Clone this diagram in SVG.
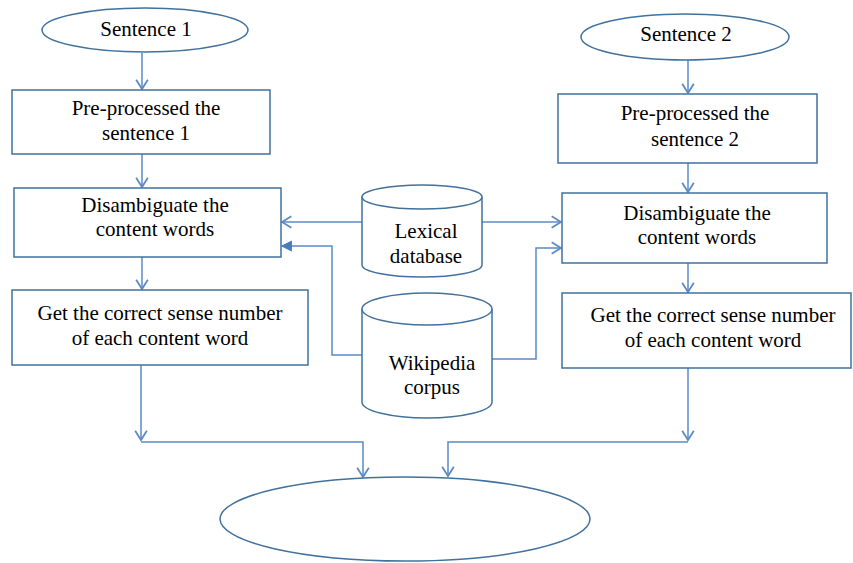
<svg xmlns="http://www.w3.org/2000/svg" width="853" height="563" viewBox="0 0 853 563">
<defs>
<style>
.shape{fill:#ffffff;stroke:#41719c;stroke-width:1.5}
.conn{fill:none;stroke:#5b8ac6;stroke-width:1.5}
text{font-family:"Liberation Serif","Times New Roman",serif;font-size:21px;fill:#000;text-anchor:middle}
</style>
<marker id="open" markerUnits="userSpaceOnUse" markerWidth="14" markerHeight="14" viewBox="-10 -6 12 12" refX="0" refY="0" orient="auto">
<path d="M-8,-5 L0,0 L-8,5" fill="none" stroke="#5b8ac6" stroke-width="1.5"/>
</marker>
<marker id="solid" markerUnits="userSpaceOnUse" markerWidth="14" markerHeight="14" viewBox="-10 -6 12 12" refX="0" refY="0" orient="auto">
<path d="M-8,-4 L0,0 L-8,4 Z" fill="#4a7bbd" stroke="#4a7bbd" stroke-width="1"/>
</marker>
</defs>
<rect width="853" height="563" fill="#ffffff"/>
<g id="connectors">
<path class="conn" d="M142,53 L142,89" marker-end="url(#open)"/>
<path class="conn" d="M142,154 L142,187" marker-end="url(#open)"/>
<path class="conn" d="M142,257 L142,289" marker-end="url(#open)"/>
<path class="conn" d="M688,60 L688,93" marker-end="url(#open)"/>
<path class="conn" d="M688,163 L688,192" marker-end="url(#open)"/>
<path class="conn" d="M688,263 L688,292" marker-end="url(#open)"/>
<path class="conn" d="M362,222 L282,222" marker-end="url(#open)"/>
<path class="conn" d="M482,222 L561,222" marker-end="url(#open)"/>
<path class="conn" d="M362,355 L332,355 L332,246 L282,246" marker-end="url(#solid)"/>
<path class="conn" d="M491,359 L536,359 L536,248 L561,248" marker-end="url(#open)"/>
<path class="conn" d="M141,365 L141,440" marker-end="url(#open)"/>
<path class="conn" d="M141,442 L363,442 L363,477" marker-end="url(#open)"/>
<path class="conn" d="M688,368 L688,440" marker-end="url(#open)"/>
<path class="conn" d="M688,442 L448,442 L448,476" marker-end="url(#open)"/>
</g>
<g id="sentence1">
<ellipse class="shape" cx="145" cy="30" rx="103" ry="22"/>
<text x="146" y="36">Sentence 1</text>
</g>
<g id="preprocess1">
<rect class="shape" x="12" y="90" width="258" height="64"/>
<text x="146" y="115">Pre-processed the</text>
<text x="146" y="140">sentence 1</text>
</g>
<g id="disambiguate1">
<rect class="shape" x="14" y="188" width="267" height="69"/>
<text x="155" y="212">Disambiguate the</text>
<text x="155" y="236">content words</text>
</g>
<g id="sense1">
<rect class="shape" x="12" y="290" width="296" height="75"/>
<text x="160" y="320">Get the correct sense number</text>
<text x="160" y="345">of each content word</text>
</g>
<g id="sentence2">
<ellipse class="shape" cx="685" cy="37" rx="104" ry="23"/>
<text x="686" y="41">Sentence 2</text>
</g>
<g id="preprocess2">
<rect class="shape" x="558" y="94" width="259" height="69"/>
<text x="695" y="120">Pre-processed the</text>
<text x="695" y="146">sentence 2</text>
</g>
<g id="disambiguate2">
<rect class="shape" x="562" y="193" width="265" height="70"/>
<text x="697" y="220">Disambiguate the</text>
<text x="697" y="244">content words</text>
</g>
<g id="sense2">
<rect class="shape" x="562" y="293" width="289" height="75"/>
<text x="713" y="322">Get the correct sense number</text>
<text x="713" y="347">of each content word</text>
</g>
<g id="lexical">
<path class="shape" d="M362,197 A60,12 0 0 1 482,197 L482,265 A60,12 0 0 1 362,265 Z"/>
<path class="shape" fill="none" d="M362,197 A60,12 0 0 0 482,197"/>
<text x="426" y="238">Lexical</text>
<text x="426" y="263">database</text>
</g>
<g id="wikipedia">
<path class="shape" d="M362,309 A65,16 0 0 1 492,309 L492,402 A65,16 0 0 1 362,402 Z"/>
<path class="shape" fill="none" d="M362,309 A65,16 0 0 0 492,309"/>
<text x="432" y="370">Wikipedia</text>
<text x="432" y="394">corpus</text>
</g>
<g id="result">
<ellipse class="shape" cx="405" cy="519" rx="185" ry="42"/>
</g>
</svg>
